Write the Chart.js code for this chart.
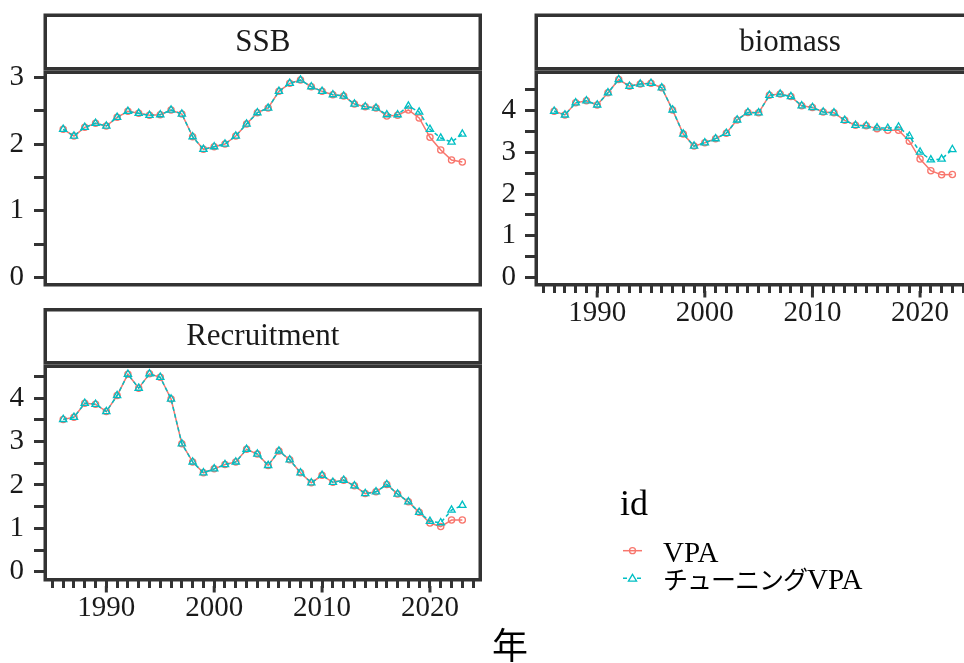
<!DOCTYPE html>
<html>
<head>
<meta charset="utf-8">
<script src="https://cdn.jsdelivr.net/npm/chart.js@4.4.1/dist/chart.umd.min.js"></script>
<style>
  html, body { margin: 0; padding: 0; background: #fff; overflow: hidden; }
  body { width: 964px; height: 663px; position: relative; }
  canvas { position: absolute; }
  #overlay { position: absolute; left: 0; top: 0; pointer-events: none; }
</style>
</head>
<body>
<canvas id="ssb" width="484" height="290" style="left:0;top:0"></canvas>
<canvas id="biomass" width="490" height="345" style="left:484px;top:0"></canvas>
<canvas id="rec" width="484" height="340" style="left:0;top:295px"></canvas>

<svg id="overlay" width="964" height="663">
  <text x="620" y="515" font-family="Liberation Serif" font-size="36" fill="#000">id</text>
  <!-- legend keys -->
  <line x1="623" y1="550.7" x2="642" y2="550.7" stroke="#F8766D" stroke-width="1.5"/>
  <circle cx="632.5" cy="550.7" r="3" fill="none" stroke="#F8766D" stroke-width="1.3"/>
  <line x1="623" y1="578.3" x2="642" y2="578.3" stroke="#00BFC4" stroke-width="1.5" stroke-dasharray="4 3"/>
  <polygon points="632.5,574.3 636.6,581.2 628.4,581.2" fill="#fff" stroke="#00BFC4" stroke-width="1.3"/>
  <text x="663" y="561.5" font-family="Liberation Serif" font-size="29" fill="#000">VPA</text>
  <text x="663" y="589" font-family="Liberation Serif, 'Noto Sans CJK JP'" font-size="29" fill="#000"><tspan font-family="Noto Sans CJK JP" font-size="25" letter-spacing="-1">チューニング</tspan>VPA</text>
  <text x="510" y="659" text-anchor="middle" font-family="Noto Sans CJK JP" font-size="36" fill="#000">年</text>
</svg>

<script>
// ---- data ----
const years = [1986, 1987, 1988, 1989, 1990, 1991, 1992, 1993, 1994, 1995,
               1996, 1997, 1998, 1999, 2000, 2001, 2002, 2003, 2004, 2005,
               2006, 2007, 2008, 2009, 2010, 2011, 2012, 2013, 2014, 2015,
               2016, 2017, 2018, 2019, 2020, 2021, 2022, 2023];

const ssbVPA = [2.22, 2.12, 2.25, 2.31, 2.27, 2.40, 2.49, 2.46, 2.43, 2.44,
                2.51, 2.45, 2.11, 1.92, 1.96, 2.00, 2.12, 2.30, 2.47, 2.54,
                2.79, 2.91, 2.96, 2.86, 2.79, 2.74, 2.72, 2.60, 2.56, 2.54,
                2.42, 2.43, 2.51, 2.39, 2.10, 1.91, 1.76, 1.73];
const ssbTuning = [2.22, 2.12, 2.25, 2.31, 2.27, 2.40, 2.49, 2.46, 2.43, 2.44,
                   2.51, 2.45, 2.11, 1.92, 1.96, 2.00, 2.12, 2.30, 2.47, 2.54,
                   2.79, 2.91, 2.96, 2.86, 2.79, 2.74, 2.72, 2.60, 2.56, 2.54,
                   2.44, 2.44, 2.57, 2.48, 2.22, 2.09, 2.03, 2.15];

const biomassVPA = [3.99, 3.90, 4.19, 4.24, 4.14, 4.43, 4.75, 4.59, 4.64, 4.66,
                    4.55, 4.02, 3.44, 3.15, 3.23, 3.33, 3.46, 3.78, 3.96, 3.95,
                    4.37, 4.40, 4.34, 4.12, 4.08, 3.97, 3.95, 3.77, 3.65, 3.64,
                    3.57, 3.53, 3.53, 3.27, 2.84, 2.56, 2.46, 2.47];
const biomassTuning = [3.99, 3.90, 4.19, 4.24, 4.14, 4.43, 4.75, 4.59, 4.64, 4.66,
                       4.55, 4.02, 3.44, 3.15, 3.23, 3.33, 3.46, 3.78, 3.96, 3.95,
                       4.37, 4.40, 4.34, 4.12, 4.08, 3.97, 3.95, 3.77, 3.65, 3.64,
                       3.59, 3.58, 3.61, 3.39, 3.01, 2.82, 2.84, 3.07];

const recVPA = [3.51, 3.56, 3.88, 3.86, 3.69, 4.06, 4.55, 4.23, 4.56, 4.48,
                3.98, 2.95, 2.53, 2.28, 2.37, 2.47, 2.53, 2.82, 2.71, 2.45,
                2.78, 2.58, 2.28, 2.05, 2.22, 2.06, 2.11, 1.98, 1.80, 1.84,
                2.01, 1.79, 1.61, 1.37, 1.12, 1.04, 1.19, 1.19];
const recTuning = [3.51, 3.56, 3.88, 3.86, 3.69, 4.06, 4.55, 4.23, 4.56, 4.48,
                   3.98, 2.95, 2.53, 2.28, 2.37, 2.47, 2.53, 2.82, 2.71, 2.45,
                   2.78, 2.58, 2.28, 2.05, 2.22, 2.06, 2.11, 1.98, 1.80, 1.84,
                   2.01, 1.79, 1.61, 1.37, 1.16, 1.13, 1.42, 1.53];

const seriesNames = ['VPA', 'チューニングVPA'];
const decadeLabels = [1990, 2000, 2010, 2020];
const ssbTicks = [0, 0.5, 1, 1.5, 2, 2.5, 3];
const biomassTicks = [0, 0.5, 1, 1.5, 2, 2.5, 3, 3.5, 4, 4.5];
const recTicks = [0, 0.5, 1, 1.5, 2, 2.5, 3, 3.5, 4, 4.5];

// ---- style ----
const RED = '#F8766D';
const TEAL = '#00BFC4';
const DARK = '#333333';
const FONT = '"Liberation Serif", "Times New Roman", serif';
const xMin = 1984.5, xMax = 2024.5;

// minor x ticks every year over the panel range
const xTicks = [];
for (let y = Math.ceil(xMin); y <= Math.floor(xMax); y++) xTicks.push(y);

// strip + panel border, plus the longer decade ticks
const panelFrame = {
    id: 'panelFrame',
    afterDraw(chart, args, opts) {
        const {ctx, chartArea: a} = chart;
        const lw = 3.5;
        ctx.save();
        ctx.strokeStyle = DARK;
        ctx.lineWidth = lw;
        ctx.strokeRect(a.left - lw / 2, a.top - lw / 2, a.width + lw, a.height + lw);
        const sTop = opts.stripTop;
        const sBot = a.top - lw;
        ctx.strokeRect(a.left - lw / 2, sTop + lw / 2, a.width + lw, sBot - lw / 2 - (sTop + lw / 2));
        ctx.fillStyle = '#1a1a1a';
        ctx.font = '31px ' + FONT;
        ctx.textAlign = 'center';
        ctx.textBaseline = 'middle';
        const cx = opts.titleX !== undefined ? opts.titleX : (a.left + a.right) / 2;
        ctx.fillText(opts.title, cx, (sTop + sBot) / 2 + 1);

        const xs = chart.scales.x;
        if (xs.options.display) {
            ctx.lineWidth = 3;
            for (const v of decadeLabels) {
                const px = xs.getPixelForValue(v);
                ctx.beginPath();
                ctx.moveTo(px, xs.top + 8);
                ctx.lineTo(px, xs.top + 14.5);
                ctx.stroke();
            }
        }
        ctx.restore();
    }
};

function toPoints(vals) {
    return years.map((yr, i) => ({x: yr, y: vals[i]}));
}

function makePanel(id, p) {
    return new Chart(document.getElementById(id), {
        type: 'line',
        data: {
            datasets: [
                {
                    label: seriesNames[1],
                    data: toPoints(p.tuning),
                    borderColor: TEAL,
                    borderWidth: 1.5,
                    borderDash: [4, 3],
                    pointStyle: 'triangle',
                    pointRadius: 4.2,
                    pointBorderWidth: 1.3,
                    pointBorderColor: TEAL,
                    pointBackgroundColor: 'rgba(255,255,255,0)',
                    tension: 0
                },
                {
                    label: seriesNames[0],
                    data: toPoints(p.vpa),
                    borderColor: RED,
                    borderWidth: 1.5,
                    pointStyle: 'circle',
                    pointRadius: 3.1,
                    pointBorderWidth: 1.3,
                    pointBorderColor: RED,
                    pointBackgroundColor: 'rgba(255,255,255,0)',
                    tension: 0
                }
            ]
        },
        options: {
            responsive: false,
            animation: false,
            layout: {padding: p.padding},
            plugins: {
                legend: {display: false},
                tooltip: {enabled: false},
                panelFrame: {title: p.title, stripTop: p.stripTop, titleX: p.titleX}
            },
            scales: {
                x: {
                    type: 'linear',
                    min: xMin,
                    max: xMax,
                    display: p.showX,
                    afterBuildTicks: (axis) => { axis.ticks = xTicks.map(v => ({value: v})); },
                    afterFit: (axis) => {
                        axis.height = p.xHeight;
                        axis.paddingLeft = 0; axis.paddingRight = 0;
                        axis.paddingTop = 0; axis.paddingBottom = 0;
                    },
                    border: {display: false},
                    grid: {
                        drawOnChartArea: false,
                        drawTicks: true,
                        tickLength: 10,
                        tickWidth: 3,
                        lineWidth: 3,
                        color: DARK,
                        tickColor: DARK
                    },
                    ticks: {
                        autoSkip: false,
                        maxRotation: 0,
                        padding: 3,
                        color: '#1a1a1a',
                        font: {family: FONT, size: 29},
                        callback: (v) => decadeLabels.includes(v) ? String(v) : ''
                    }
                },
                y: {
                    type: 'linear',
                    min: p.yMin,
                    max: p.yMax,
                    afterBuildTicks: (axis) => { axis.ticks = p.yTicks.map(v => ({value: v})); },
                    afterFit: (axis) => {
                        axis.width = p.yWidth;
                        axis.paddingLeft = 0; axis.paddingRight = 0;
                        axis.paddingTop = 0; axis.paddingBottom = 0;
                    },
                    border: {display: false},
                    grid: {
                        drawOnChartArea: false,
                        drawTicks: true,
                        tickLength: 13,
                        tickWidth: 3,
                        lineWidth: 3,
                        color: DARK,
                        tickColor: DARK
                    },
                    ticks: {
                        autoSkip: false,
                        padding: p.yPad,
                        color: '#1a1a1a',
                        font: {family: FONT, size: 29},
                        callback: (v) => Number.isInteger(v) ? String(v) : ''
                    }
                }
            }
        },
        plugins: [panelFrame]
    });
}

makePanel('ssb', {
    title: 'SSB', vpa: ssbVPA, tuning: ssbTuning, yTicks: ssbTicks,
    yMin: -0.085, yMax: 3.05, yWidth: 47, yPad: 10,
    padding: {top: 74, right: 5, bottom: 7, left: 0},
    stripTop: 13.5, showX: false, xHeight: 0
});

// the biomass strip label sits right of the visible centre in the reference
makePanel('biomass', {
    title: 'biomass', vpa: biomassVPA, tuning: biomassTuning, yTicks: biomassTicks,
    yMin: -0.137, yMax: 4.882, yWidth: 54, yPad: 9,
    padding: {top: 74, right: 4, bottom: 0, left: 0},
    stripTop: 13.5, showX: true, xHeight: 62, titleX: 306
});

makePanel('rec', {
    title: 'Recruitment', vpa: recVPA, tuning: recTuning, yTicks: recTicks,
    yMin: -0.145, yMax: 4.694, yWidth: 47, yPad: 10,
    padding: {top: 73, right: 5, bottom: 0, left: 0},
    stripTop: 13, showX: true, xHeight: 57
});
</script>
</body>
</html>
